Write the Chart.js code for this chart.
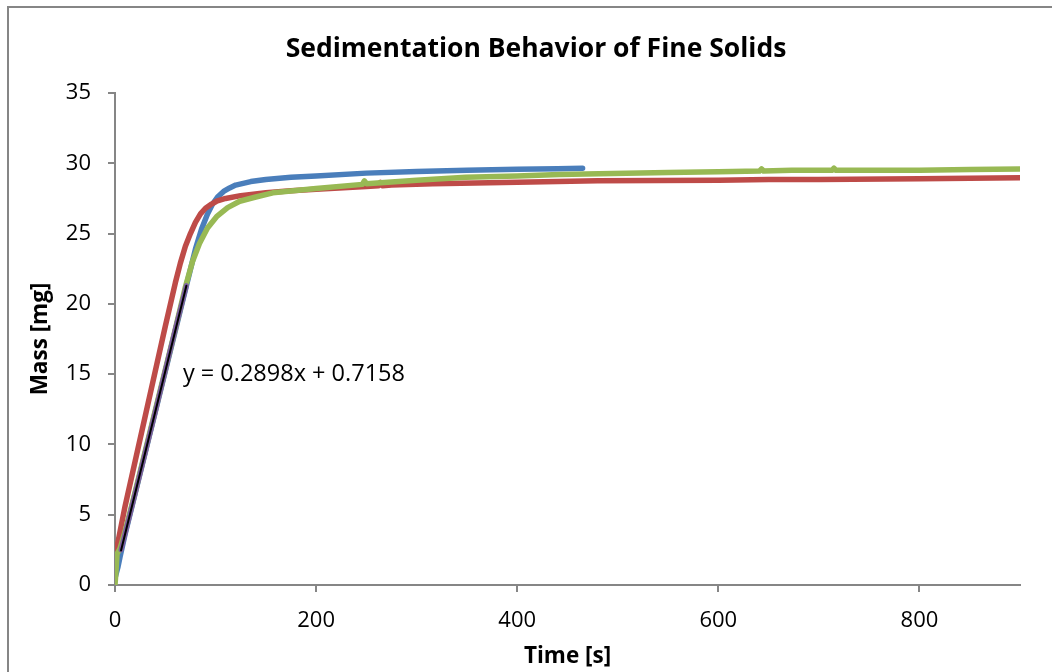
<!DOCTYPE html>
<html>
<head>
<meta charset="utf-8">
<title>Sedimentation Behavior of Fine Solids</title>
<script src="https://cdn.jsdelivr.net/npm/chart.js@4.4.1/dist/chart.umd.min.js"></script>
<style>
    html, body { margin: 0; padding: 0; background: #fff; }
    #wrap { width: 1052px; height: 672px; position: relative; }
</style>
</head>
<body>
<div id="wrap"><canvas id="sedChart" width="1052" height="672"></canvas></div>
<script>
// run 1 (blue)
const blueTime = [0, 3, 5, 10, 20, 30, 40, 50, 60, 70, 80, 86, 92, 97, 102, 108, 114, 120, 135, 150, 175, 200, 250, 300, 350, 400, 440, 465];
const blueMass = [0.5, 1.3, 2.0, 3.6, 6.5, 9.4, 12.3, 15.2, 18.1, 21.0, 23.9, 25.3, 26.4, 27.1, 27.6, 28.0, 28.25, 28.45, 28.7, 28.85, 29.0, 29.1, 29.3, 29.42, 29.5, 29.57, 29.62, 29.65];

// run 2 (red)
const redTime = [0, 2, 10, 20, 30, 40, 50, 60, 65, 70, 75, 80, 85, 90, 96, 101, 110, 125, 150, 175, 200, 250, 262, 264, 266, 275, 316, 400, 480, 540, 600, 650, 700, 800, 900];
const redMass = [2.5, 2.7, 5.6, 8.8, 12.0, 15.2, 18.4, 21.5, 22.9, 24.1, 25.0, 25.8, 26.4, 26.8, 27.1, 27.3, 27.5, 27.7, 27.9, 28.05, 28.15, 28.35, 28.4, 28.65, 28.4, 28.45, 28.55, 28.65, 28.75, 28.78, 28.8, 28.85, 28.85, 28.9, 28.97];

// run 3 (green)
const greenTime = [0, 1, 2, 5, 10, 20, 30, 40, 50, 60, 70, 77, 84, 92, 101, 112, 124, 140, 157, 200, 246, 248, 250, 300, 349, 400, 442, 481, 550, 600, 641, 643, 645, 673, 713, 715, 717, 750, 800, 850, 900];
const greenMass = [0, 1.0, 2.2, 2.6, 3.8, 6.6, 9.5, 12.4, 15.3, 18.2, 21.2, 23.0, 24.3, 25.4, 26.2, 26.85, 27.3, 27.6, 27.9, 28.2, 28.5, 28.75, 28.55, 28.8, 29.0, 29.1, 29.2, 29.25, 29.35, 29.4, 29.45, 29.6, 29.45, 29.5, 29.5, 29.65, 29.5, 29.5, 29.5, 29.55, 29.6];

// linear section used for the fit (purple)
const fitTime = [6, 20, 40, 60, 71];
const fitMass = [2.5, 6.5, 12.3, 18.2, 21.3];

// trend line: y = 0.2898x + 0.7158
const trendSlope = 0.2898;
const trendIntercept = 0.7158;
const trendRange = [6, 71];
const trendLabel = "y = 0.2898x + 0.7158";

const xTicks = [0, 200, 400, 600, 800];

const chartTitle = "Sedimentation Behavior of Fine Solids";

const FONT = "'Open Sans', sans-serif";
const AXIS_GREY = "#868686";

function toPoints(xs, ys) {
    return xs.map((x, i) => ({ x: x, y: ys[i] }));
}

const trendPoints = trendRange.map(x => ({ x: x, y: trendSlope * x + trendIntercept }));

function series(data, color, width, order) {
    return {
        data: data,
        borderColor: color,
        borderWidth: width,
        pointRadius: 0,
        tension: 0,
        fill: false,
        borderCapStyle: "round",
        borderJoinStyle: "round",
        order: order
    };
}

// outer frame, title (centred on the frame, not the plot) and trend equation
const decorations = {
    id: "decorations",
    beforeDraw(chart) {
        const ctx = chart.ctx;
        ctx.save();
        ctx.fillStyle = "#fff";
        ctx.fillRect(0, 0, chart.width, chart.height);
        ctx.strokeStyle = AXIS_GREY;
        ctx.lineWidth = 2;
        ctx.strokeRect(8, 7, chart.width + 20, chart.height + 20);

        ctx.font = "bold 26.5px " + FONT;
        ctx.fillStyle = "#000";
        ctx.textAlign = "center";
        ctx.textBaseline = "middle";
        ctx.fillText(chartTitle, 536, 49);
        ctx.restore();
    },
    afterDatasetsDraw(chart) {
        const ctx = chart.ctx;
        const xs = chart.scales.x;
        const ys = chart.scales.y;
        ctx.save();
        ctx.font = "23.5px " + FONT;
        ctx.fillStyle = "#000";
        ctx.textAlign = "left";
        ctx.textBaseline = "middle";
        ctx.fillText(trendLabel, xs.getPixelForValue(67.5), ys.getPixelForValue(15));
        ctx.restore();
    }
};

new Chart(document.getElementById("sedChart"), {
    type: "line",
    data: {
        datasets: [
            series(toPoints(blueTime, blueMass), "#4A7EBB", 5.5, 5),
            series(toPoints(redTime, redMass), "#BE4B48", 5.5, 4),
            series(toPoints(greenTime, greenMass), "#98B954", 5.5, 3),
            series(toPoints(fitTime, fitMass), "#7D60A0", 5, 2),
            series(trendPoints, "#000000", 2, 1)
        ]
    },
    options: {
        responsive: false,
        animation: false,
        layout: { padding: { left: 0, right: 32, top: 93, bottom: 0 } },
        plugins: {
            legend: { display: false },
            tooltip: { enabled: false },
            title: { display: false }
        },
        scales: {
            x: {
                type: "linear",
                min: 0,
                max: 900,
                afterBuildTicks: s => { s.ticks = xTicks.map(v => ({ value: v })); },
                afterFit: s => { s.height = 87; },
                border: { color: AXIS_GREY, width: 2 },
                grid: { drawOnChartArea: false, drawTicks: true, tickLength: 7, color: AXIS_GREY, lineWidth: 2 },
                ticks: { color: "#000", font: { family: FONT, size: 22 }, padding: 16, maxRotation: 0 },
                title: {
                    display: true,
                    text: "Time [s]",
                    color: "#000",
                    font: { family: FONT, size: 22.5, weight: "bold", lineHeight: 1.2 },
                    padding: { top: 0, bottom: 2 }
                }
            },
            y: {
                min: 0,
                max: 35,
                afterFit: s => { s.width = 115; },
                border: { color: AXIS_GREY, width: 2 },
                grid: { drawOnChartArea: false, drawTicks: true, tickLength: 7, color: AXIS_GREY, lineWidth: 2 },
                ticks: { stepSize: 5, color: "#000", font: { family: FONT, size: 22 }, padding: 17 },
                title: {
                    display: true,
                    text: "Mass [mg]",
                    color: "#000",
                    font: { family: FONT, size: 22.5, weight: "bold", lineHeight: 1.2 },
                    padding: { top: 27, bottom: 0 }
                }
            }
        }
    },
    plugins: [decorations]
});
</script>
</body>
</html>
